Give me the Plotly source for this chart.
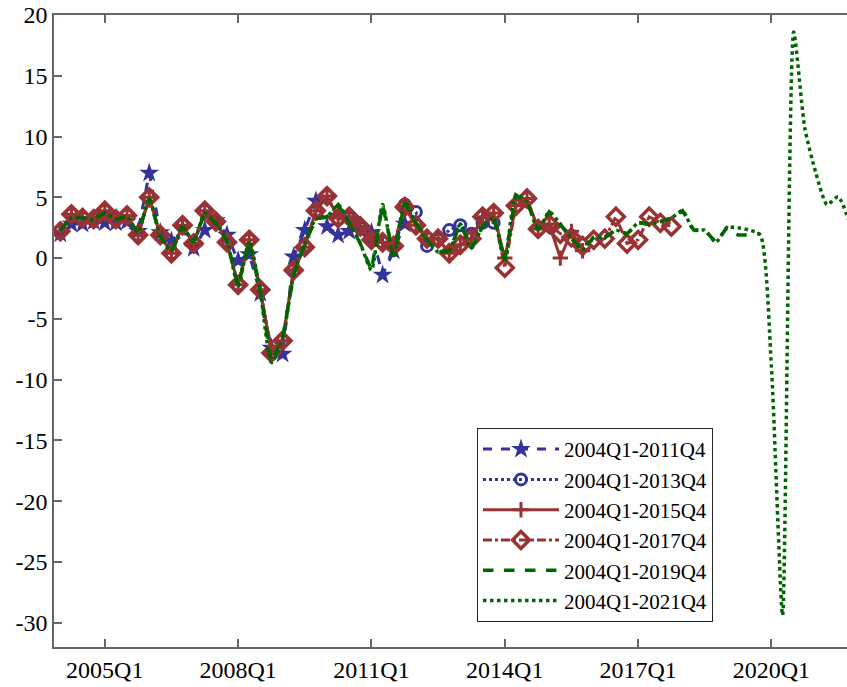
import plotly.graph_objects as go

quarters = [f"{y}Q{q}" for y in range(2004, 2022) for q in range(1, 5)]

s2011 = [2.0, 2.8, 2.8, 3.0, 2.9, 2.9, 3.0, 2.2, 7.0, 2.1, 1.4, 2.4, 0.8, 2.3, 3.1, 1.9,
         -0.2, 0.3, -2.9, -7.4, -7.9, 0.1, 2.3, 4.7, 2.6, 1.9, 2.2, 2.3, 2.1, -1.4, 0.6, 2.8]

s2013 = [2.2, 3.6, 3.3, 3.2, 3.9, 3.2, 3.5, 1.9, 5.0, 1.9, 0.4, 2.7, 1.2, 3.9, 3.0, 1.4,
         -2.2, 1.5, -2.6, -7.8, -6.8, -1.0, 1.0, 3.9, 5.1, 3.2, 3.3, 2.5, 1.7, 1.3, 1.0, 4.4,
         3.8, 1.0, 1.5, 2.3, 2.7, 2.0, 2.9, 2.9]

s2015 = [2.2, 3.6, 3.3, 3.2, 3.9, 3.2, 3.5, 1.9, 5.0, 1.9, 0.4, 2.7, 1.2, 3.9, 3.0, 1.3,
         -2.2, 1.5, -2.6, -7.8, -6.8, -1.0, 0.9, 3.9, 5.1, 3.3, 3.4, 2.6, 1.5, 1.3, 1.0, 4.2,
         2.7, 1.6, 1.6, 0.4, 1.1, 1.6, 3.4, 3.7, 0.0, 4.3, 4.9, 2.4, 2.8, 0.0, 2.2, 0.6]

s2017 = [2.2, 3.6, 3.3, 3.2, 3.9, 3.2, 3.5, 1.9, 5.0, 1.9, 0.4, 2.7, 1.2, 3.9, 3.0, 1.3,
         -2.2, 1.5, -2.6, -7.8, -6.8, -1.0, 0.9, 3.9, 5.1, 3.3, 3.4, 2.6, 1.5, 1.3, 1.0, 4.2,
         2.7, 1.6, 1.6, 0.4, 1.1, 1.6, 3.4, 3.7, -0.8, 4.3, 4.9, 2.4, 2.8, 2.0, 1.7, 1.0,
         1.5, 1.6, 3.4, 1.2, 1.5, 3.4, 2.9, 2.6]

s2019 = [2.3, 3.3, 3.3, 3.2, 3.7, 3.2, 3.4, 2.1, 4.9, 1.8, 0.6, 2.6, 1.3, 3.7, 2.9, 1.4,
         -2.3, 1.4, -2.8, -8.6, -6.6, -1.4, 1.2, 3.2, 3.4, 4.4, 2.9, 1.2, -1.0, 4.4, 0.1, 4.6,
         2.9, 1.5, 0.5, 0.6, 2.8, 0.8, 2.6, 3.3, -0.2, 5.2, 4.6, 2.3, 3.8, 2.8, 1.6, 0.7,
         1.7, 1.7, 2.3, 2.0, 2.9, 2.8, 3.0, 3.3, 3.9, 2.3, 2.3, 1.3, 2.5, 1.9, 1.9, 2.0]

s2021 = [2.3, 3.3, 3.3, 3.2, 3.7, 3.2, 3.4, 2.1, 4.9, 1.8, 0.6, 2.6, 1.3, 3.7, 2.9, 1.4,
         -2.3, 1.4, -2.8, -8.6, -6.6, -1.4, 1.2, 3.2, 3.4, 4.4, 2.9, 1.2, -1.0, 4.4, 0.1, 4.6,
         2.9, 1.5, 0.5, 0.6, 2.8, 0.8, 2.6, 3.3, -0.2, 5.2, 4.6, 2.3, 3.8, 2.8, 1.6, 0.7,
         1.7, 1.7, 2.3, 2.0, 2.9, 2.8, 3.0, 3.3, 3.9, 2.3, 2.3, 1.3, 2.5, 2.5, 2.3, 1.9,
         -9.0, -29.4, 18.6, 10.7, 7.0, 4.4, 5.05, 3.0]

names = ["2004Q1-2011Q4", "2004Q1-2013Q4", "2004Q1-2015Q4",
         "2004Q1-2017Q4", "2004Q1-2019Q4", "2004Q1-2021Q4"]

x_tick_labels = ["2005Q1", "2008Q1", "2011Q1", "2014Q1", "2017Q1", "2020Q1"]
y_tick_vals = [-30, -25, -20, -15, -10, -5, 0, 5, 10, 15, 20]

BLUE = "#333399"
RED = "#993333"
GREEN = "#006600"
AXIS = "#666666"
FONT = "'Liberation Serif', 'Times New Roman', serif"

fig = go.Figure()

def xs(series):
    return list(range(len(series)))

fig.add_trace(go.Scatter(
    x=xs(s2011), y=s2011, name=names[0], mode="lines+markers",
    line=dict(color=BLUE, width=3, dash="dash"),
    marker=dict(symbol="star", size=15, color=BLUE, line=dict(width=0))))
fig.add_trace(go.Scatter(
    x=xs(s2013), y=s2013, name=names[1], mode="lines+markers",
    line=dict(color=BLUE, width=3, dash="dot"),
    marker=dict(symbol="circle-open", size=11, color=BLUE, line=dict(width=3, color=BLUE))))
fig.add_trace(go.Scatter(
    x=xs(s2015), y=s2015, name=names[2], mode="lines+markers",
    line=dict(color=RED, width=3),
    marker=dict(symbol="cross-thin-open", size=11, color=RED, line=dict(width=3, color=RED))))
fig.add_trace(go.Scatter(
    x=xs(s2017), y=s2017, name=names[3], mode="lines+markers",
    line=dict(color=RED, width=3, dash="dashdot"),
    marker=dict(symbol="diamond-open", size=13, color=RED, line=dict(width=3.5, color=RED))))
fig.add_trace(go.Scatter(
    x=xs(s2019), y=s2019, name=names[4], mode="lines",
    line=dict(color=GREEN, width=3.5, dash="dash")))
fig.add_trace(go.Scatter(
    x=xs(s2021), y=s2021, name=names[5], mode="lines",
    line=dict(color=GREEN, width=3.5, dash="dot", shape="spline", smoothing=0.6)))

tick_idx = [quarters.index(t) for t in x_tick_labels]

fig.update_layout(
    width=847, height=687,
    margin=dict(l=54, r=0, t=15, b=40, autoexpand=False),
    paper_bgcolor="white", plot_bgcolor="white",
    font=dict(family=FONT, size=24, color="black"),
    showlegend=True,
    legend=dict(x=0.831, y=0.0396, xanchor="right", yanchor="bottom",
                bgcolor="white", bordercolor="#262626", borderwidth=1,
                font=dict(family=FONT, size=21, color="black"),
                tracegroupgap=0, itemwidth=76),
    xaxis=dict(range=[-0.57, 70.8], tickvals=tick_idx, ticktext=x_tick_labels,
               ticks="inside", ticklen=8, tickcolor=AXIS, tickwidth=1.5,
               showline=True, linecolor=AXIS, linewidth=1.5, mirror="ticks",
               showgrid=False, zeroline=False,
               tickfont=dict(family=FONT, size=24, color="black")),
    yaxis=dict(range=[-32, 20], tickvals=y_tick_vals,
               ticktext=[str(v) for v in y_tick_vals],
               ticks="inside", ticklen=8, tickcolor=AXIS, tickwidth=1.5,
               showline=True, linecolor=AXIS, linewidth=1.5, mirror=False,
               showgrid=False, zeroline=False,
               tickfont=dict(family=FONT, size=24, color="black")),
)

fig.write_html("out.html", config={"displayModeBar": False},
               post_script="document.body.style.margin='0px';")
